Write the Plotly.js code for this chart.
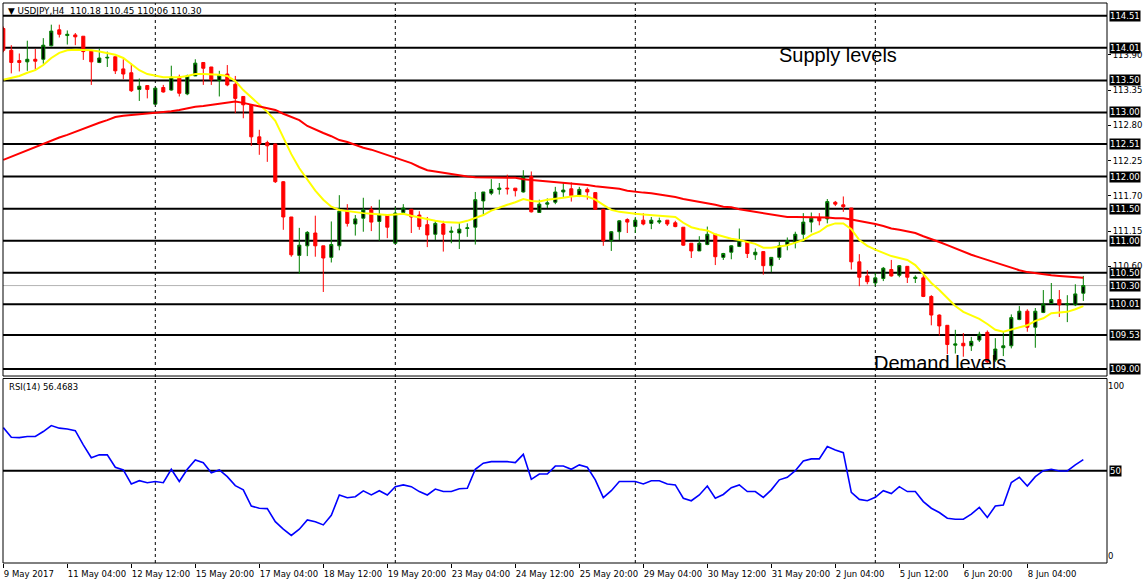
<!DOCTYPE html>
<html><head><meta charset="utf-8">
<script src="https://cdn.plot.ly/plotly-3.0.1.min.js"></script>
<style>html,body{margin:0;padding:0;background:#fff;}#chart{width:1147px;height:585px;}</style>
</head><body><div id="chart"></div>
<script>
const symbol = 'USDJPY,H4';
const rsiName = 'RSI(14)';
const xTickLabels = ['9 May 2017','11 May 04:00','12 May 12:00','15 May 20:00','17 May 04:00','18 May 12:00','19 May 20:00','23 May 04:00','24 May 12:00','25 May 20:00','29 May 04:00','30 May 12:00','31 May 20:00','2 Jun 04:00','5 Jun 12:00','6 Jun 20:00','8 Jun 04:00'];
const barsPerTick = 8;
const weekStartBars = [19, 49, 79, 109];
const levels = [114.51, 114.01, 113.50, 113.00, 112.51, 112.00, 111.50, 111.00, 110.50, 110.01, 109.53, 109.00];
const bidPrice = 110.30;
const priceTicks = [113.90, 113.35, 112.80, 112.25, 111.70, 111.15, 110.60];
const rsiTicks = [0, 100];
const rsiMid = 50;

const openP = [114.31,113.97,113.81,113.79,113.83,113.83,114.04,114.29,114.20,114.21,
114.19,113.96,113.78,113.85,113.87,113.68,113.62,113.36,113.42,113.13,
113.39,113.35,113.55,113.29,113.57,113.78,113.71,113.50,113.60,113.44,
113.25,113.12,112.62,112.53,112.51,111.92,111.37,110.77,110.92,111.12,
110.92,110.74,110.92,111.46,111.26,111.35,111.49,111.30,111.40,110.96,
111.44,111.49,111.40,111.25,111.10,111.26,111.13,111.12,111.19,111.21,
111.62,111.74,111.80,111.82,111.82,111.76,112.00,111.44,111.57,111.60,
111.76,111.81,111.70,111.80,111.75,111.49,111.00,111.14,111.33,111.22,
111.32,111.27,111.29,111.32,111.28,111.21,110.96,110.84,110.94,111.10,
110.74,110.82,110.91,110.98,110.78,110.83,110.61,110.74,110.93,110.97,
111.10,111.29,111.36,111.34,111.60,111.56,111.51,110.67,110.45,110.34,
110.41,110.55,110.46,110.60,110.41,110.42,110.13,109.84,109.68,109.37,
109.40,109.36,109.45,109.57,109.14,109.33,109.36,109.77,109.90,109.65,
109.88,110.02,110.08,110.00,110.00,110.18];
const highP = [114.34,114.05,113.92,114.12,113.99,114.16,114.37,114.37,114.28,114.24,
114.19,113.97,114.00,113.95,113.87,113.83,113.77,113.53,113.42,113.38,
113.43,113.73,113.59,113.59,113.83,113.78,113.71,113.65,113.74,113.57,
113.25,113.13,112.73,112.56,112.51,111.93,111.37,111.20,111.15,111.39,
110.92,111.30,111.71,111.57,111.40,111.67,111.54,111.64,111.41,111.52,
111.57,111.49,111.46,111.37,111.32,111.31,111.22,111.29,111.27,111.76,
111.76,111.96,111.90,112.03,111.82,112.10,112.08,111.64,111.66,111.84,
111.91,111.91,111.84,111.83,111.75,111.49,111.15,111.32,111.35,111.37,
111.43,111.37,111.36,111.32,111.31,111.21,110.96,111.07,111.22,111.10,
110.81,110.93,111.19,110.98,110.88,110.83,110.74,110.98,111.05,111.14,
111.43,111.44,111.43,111.65,111.62,111.69,111.51,110.79,110.54,110.50,
110.59,110.70,110.62,110.60,110.46,110.49,110.15,109.85,109.68,109.61,
109.56,109.50,109.58,109.60,109.48,109.58,109.85,109.98,109.93,109.95,
110.23,110.34,110.23,110.15,110.32,110.45];
const lowP = [113.94,113.61,113.64,113.65,113.65,113.76,114.03,114.17,114.06,114.05,
113.82,113.43,113.77,113.71,113.60,113.52,113.32,113.18,113.22,113.12,
113.31,113.34,113.25,113.27,113.57,113.43,113.43,113.25,113.41,112.99,
112.91,112.48,112.34,112.23,111.90,111.17,110.75,110.48,110.76,110.75,
110.20,110.66,110.85,111.22,111.08,111.14,111.15,111.00,111.04,110.95,
111.43,111.12,111.17,110.90,111.01,110.83,110.96,110.87,111.06,110.94,
111.41,111.71,111.72,111.72,111.69,111.75,111.44,111.44,111.51,111.57,
111.68,111.61,111.68,111.64,111.48,110.92,110.84,111.01,111.12,111.12,
111.24,111.18,111.26,111.23,111.21,110.92,110.73,110.84,110.93,110.62,
110.70,110.71,110.90,110.73,110.70,110.47,110.51,110.70,110.85,110.88,
110.98,111.13,111.24,111.27,111.54,111.45,110.55,110.29,110.32,110.29,
110.37,110.44,110.43,110.34,110.34,110.12,109.68,109.52,109.23,109.24,
109.19,109.28,109.42,109.09,109.11,109.20,109.32,109.76,109.58,109.33,
109.87,110.01,109.81,109.73,109.98,110.06];
const closeP = [113.97,113.78,113.78,113.83,113.80,114.05,114.27,114.22,114.22,114.18,
113.95,113.79,113.85,113.86,113.65,113.60,113.34,113.41,113.36,113.38,
113.32,113.55,113.30,113.57,113.77,113.69,113.51,113.58,113.43,113.22,
113.12,112.62,112.51,112.48,111.92,111.37,110.78,110.93,111.13,110.92,
110.73,110.94,111.46,111.27,111.34,111.48,111.29,111.41,111.21,111.43,
111.51,111.37,111.22,111.09,111.27,111.10,111.15,111.18,111.20,111.64,
111.76,111.80,111.82,111.81,111.78,111.99,111.45,111.57,111.59,111.76,
111.79,111.70,111.80,111.76,111.49,111.00,111.14,111.31,111.29,111.32,
111.26,111.32,111.31,111.26,111.22,110.93,110.84,110.96,111.10,110.75,
110.80,110.92,111.00,110.80,110.82,110.61,110.74,110.92,111.00,111.10,
111.29,111.35,111.31,111.61,111.57,111.53,110.67,110.43,110.36,110.42,
110.57,110.45,110.61,110.43,110.43,110.13,109.84,109.67,109.38,109.39,
109.36,109.43,109.54,109.11,109.31,109.36,109.80,109.90,109.65,109.90,
110.01,110.08,110.00,110.02,110.17,110.30];
const maFast = [113.51,113.54,113.57,113.62,113.66,113.74,113.85,113.93,113.97,113.98,
113.98,113.97,113.95,113.93,113.90,113.85,113.76,113.66,113.60,113.57,
113.55,113.55,113.55,113.57,113.60,113.60,113.60,113.59,113.57,113.49,
113.35,113.24,113.12,113.01,112.87,112.60,112.35,112.13,111.95,111.78,
111.64,111.53,111.48,111.46,111.44,111.43,111.42,111.41,111.40,111.41,
111.42,111.39,111.36,111.33,111.31,111.29,111.28,111.28,111.31,111.35,
111.40,111.47,111.52,111.56,111.60,111.65,111.62,111.61,111.64,111.65,
111.67,111.69,111.70,111.69,111.64,111.56,111.48,111.45,111.43,111.42,
111.41,111.40,111.39,111.39,111.37,111.28,111.21,111.18,111.16,111.10,
111.06,111.03,111.01,110.98,110.95,110.89,110.89,110.91,110.93,110.97,
111.01,111.09,111.14,111.23,111.27,111.27,111.18,111.01,110.92,110.86,
110.81,110.76,110.73,110.70,110.62,110.48,110.34,110.23,110.11,109.98,
109.89,109.83,109.78,109.70,109.61,109.58,109.61,109.65,109.68,109.75,
109.79,109.87,109.88,109.89,109.93,109.98];
const maSlow = [112.26,112.31,112.37,112.42,112.46,112.52,112.57,112.61,112.65,112.70,
112.74,112.79,112.84,112.88,112.93,112.95,112.96,112.97,112.98,112.99,
113.00,113.02,113.04,113.07,113.09,113.10,113.12,113.14,113.16,113.17,
113.15,113.12,113.09,113.06,113.04,112.98,112.93,112.88,112.79,112.73,
112.68,112.63,112.57,112.54,112.49,112.45,112.42,112.38,112.34,112.29,
112.26,112.21,112.15,112.10,112.08,112.06,112.03,112.01,112.00,111.99,
111.99,111.99,111.99,111.99,111.98,111.96,111.95,111.94,111.93,111.92,
111.91,111.90,111.88,111.87,111.85,111.84,111.82,111.81,111.78,111.76,
111.75,111.74,111.72,111.71,111.68,111.65,111.63,111.60,111.58,111.56,
111.53,111.52,111.49,111.47,111.45,111.43,111.41,111.38,111.37,111.37,
111.37,111.37,111.36,111.36,111.35,111.35,111.33,111.31,111.28,111.26,
111.23,111.19,111.17,111.14,111.12,111.07,111.03,110.98,110.93,110.88,
110.82,110.78,110.74,110.70,110.65,110.61,110.57,110.54,110.51,110.49,
110.48,110.46,110.45,110.44,110.43,110.42];
const rsi = [75.3,69.6,69.4,70.1,70.1,73.0,76.5,75.0,74.5,73.5,
65.2,57.6,59.3,59.3,52.0,50.4,42.2,44.1,42.9,43.6,
42.9,50.8,43.6,50.8,56.3,54.7,48.8,50.4,46.5,41.2,
38.7,29.2,27.9,27.7,20.0,15.6,11.9,15.6,21.0,20.0,
18.1,23.7,35.7,34.1,34.7,38.1,35.7,38.2,35.7,40.6,
41.6,40.6,37.7,35.7,39.2,37.7,37.7,39.4,39.6,50.8,
54.4,55.3,55.3,55.3,54.7,59.6,44.9,48.0,48.0,52.7,
52.7,50.8,53.4,52.0,44.6,34.1,38.2,43.6,43.6,43.6,
42.2,44.1,44.1,42.2,41.6,33.8,32.3,35.7,41.0,33.8,
36.0,40.0,41.6,37.7,37.7,34.3,38.7,44.6,46.1,50.0,
55.7,56.9,56.9,64.2,62.2,60.6,37.2,33.1,32.3,34.3,
38.2,36.5,40.6,37.7,37.7,31.8,27.9,25.4,22.0,21.4,
21.4,24.4,28.4,22.5,29.2,29.8,43.0,46.1,41.0,46.5,
50.0,50.8,49.8,49.8,53.4,56.4683];

const idx = openP.map((_, i) => i);
const last = openP.length - 1;
const tickFont = {family: 'DejaVu Sans', size: 8.5, color: '#000'};

const traces = [
  {type: 'candlestick', x: idx, open: openP, high: highP, low: lowP, close: closeP,
   xaxis: 'x', yaxis: 'y', whiskerwidth: 0, hoverinfo: 'skip', showlegend: false,
   increasing: {line: {color: '#008000', width: 1}, fillcolor: '#000000'},
   decreasing: {line: {color: '#ff0000', width: 1}, fillcolor: '#ff0000'}},
  {type: 'scatter', mode: 'lines', x: idx, y: maFast, xaxis: 'x', yaxis: 'y',
   line: {color: '#ffff00', width: 2}, hoverinfo: 'skip', showlegend: false},
  {type: 'scatter', mode: 'lines', x: idx, y: maSlow, xaxis: 'x', yaxis: 'y',
   line: {color: '#ff0000', width: 2}, hoverinfo: 'skip', showlegend: false},
  {type: 'scatter', mode: 'lines', x: idx, y: rsi, xaxis: 'x', yaxis: 'y2',
   line: {color: '#0000ff', width: 1.6}, hoverinfo: 'skip', showlegend: false}
];

const shapes = [];
levels.forEach(v => shapes.push({type: 'line', layer: 'below', xref: 'paper', x0: 0, x1: 1, yref: 'y', y0: v, y1: v, line: {color: '#000', width: 2}}));
shapes.push({type: 'line', layer: 'below', xref: 'paper', x0: 0, x1: 1, yref: 'y', y0: bidPrice, y1: bidPrice, line: {color: '#b4b4b4', width: 1}});
shapes.push({type: 'line', layer: 'below', xref: 'paper', x0: 0, x1: 1, yref: 'y2', y0: rsiMid, y1: rsiMid, line: {color: '#000', width: 2}});
weekStartBars.forEach(b => shapes.push({type: 'line', layer: 'below', xref: 'x', x0: b, x1: b, yref: 'paper', y0: 0, y1: 1, line: {color: '#000', width: 1, dash: '3px,3px'}}));
shapes.push({type: 'rect', xref: 'paper', x0: 0, x1: 1, yref: 'y domain', y0: 0, y1: 1, line: {color: '#000', width: 1}});
shapes.push({type: 'rect', xref: 'paper', x0: 0, x1: 1, yref: 'y2 domain', y0: 0, y1: 1, line: {color: '#000', width: 1}});

const boxFont = {family: 'DejaVu Sans', size: 8.5, color: '#fff'};
const annotations = [];
levels.concat([bidPrice]).forEach(v => annotations.push({
  xref: 'paper', x: 1, xanchor: 'left', xshift: 2, yref: 'y', y: v, yanchor: 'middle',
  text: v.toFixed(2), showarrow: false, bgcolor: '#000', font: boxFont, borderpad: 0}));
annotations.push({xref: 'paper', x: 1, xanchor: 'left', xshift: 2, yref: 'y2', y: rsiMid, yanchor: 'middle',
  text: String(rsiMid), showarrow: false, bgcolor: '#000', font: boxFont, borderpad: 0});
annotations.push({xref: 'paper', x: 0, xanchor: 'left', xshift: 3, yref: 'paper', y: 1, yanchor: 'top', yshift: -1,
  text: '\u25BC ' + symbol + '  ' + [openP[last], highP[last], lowP[last], closeP[last]].map(v => v.toFixed(2)).join(' '),
  showarrow: false, font: {family: 'DejaVu Sans', size: 8.8, color: '#000'}});
annotations.push({xref: 'paper', x: 0, xanchor: 'left', xshift: 4, yref: 'y2 domain', y: 1, yanchor: 'top', yshift: -2,
  text: rsiName + ' ' + rsi[last].toFixed(4), showarrow: false, font: {family: 'DejaVu Sans', size: 8.5, color: '#000'}});
annotations.push({xref: 'x', x: 96.7, xanchor: 'left', yref: 'y', y: 113.90, yanchor: 'middle',
  text: 'Supply levels', showarrow: false, font: {family: 'Liberation Sans', size: 20, color: '#000'}});
annotations.push({xref: 'x', x: 108.6, xanchor: 'left', yref: 'y', y: 109.09, yanchor: 'middle',
  text: 'Demand levels', showarrow: false, font: {family: 'Liberation Sans', size: 20, color: '#000'}});

const layout = {
  width: 1147, height: 585,
  margin: {l: 3, r: 40, t: 3, b: 22},
  paper_bgcolor: '#fff', plot_bgcolor: '#fff',
  showlegend: false, boxgap: 0.45,
  xaxis: {domain: [0, 1], range: [-0.0375, 137.96], anchor: 'y2',
    tickvals: xTickLabels.map((_, k) => k * barsPerTick), ticktext: xTickLabels,
    tickangle: 0, ticks: 'outside', ticklen: 4, tickcolor: '#000', ticklabelposition: 'outside right',
    ticklabelstandoff: 3,
    tickfont: tickFont, showgrid: false, zeroline: false, showline: false,
    rangeslider: {visible: false}, fixedrange: true},
  yaxis: {domain: [0.3339, 1], range: [108.889, 114.708], side: 'right', anchor: 'x',
    tickvals: priceTicks, tickformat: '.2f', ticks: 'outside', ticklen: 3, tickcolor: '#000',
    tickfont: tickFont, showgrid: false, zeroline: false, showline: false, fixedrange: true},
  yaxis2: {domain: [0, 0.3295], range: [-4.3, 104.2], side: 'right', anchor: 'x',
    tickvals: rsiTicks, ticks: '', tickfont: tickFont, showgrid: false, zeroline: false,
    showline: false, fixedrange: true},
  shapes: shapes, annotations: annotations
};

Plotly.newPlot('chart', traces, layout, {staticPlot: true, displayModeBar: false});
</script></body></html>
